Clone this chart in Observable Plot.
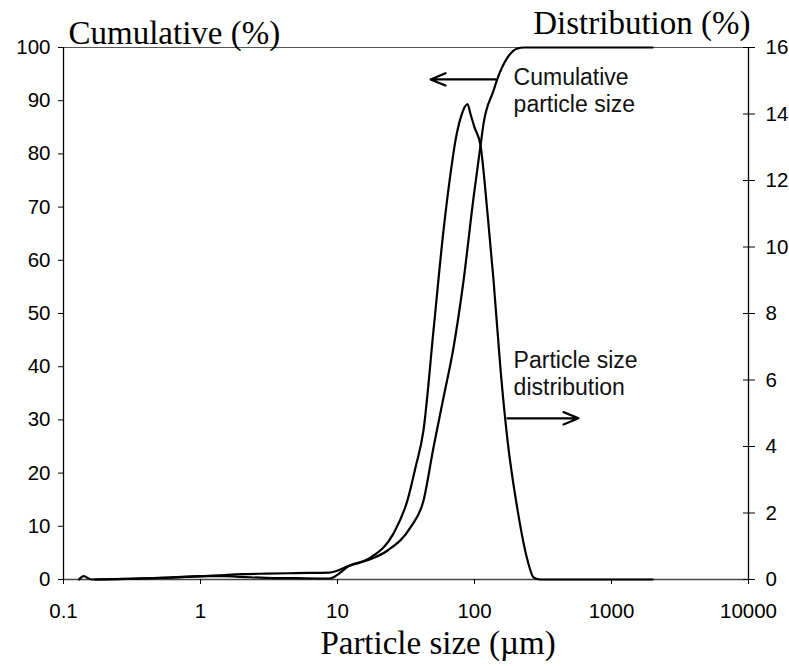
<!DOCTYPE html>
<html><head><meta charset="utf-8">
<script src="https://cdn.jsdelivr.net/npm/d3@7"></script>
<script src="https://cdn.jsdelivr.net/npm/@observablehq/plot@0.6"></script>
<style>body{margin:0;background:#fff}#chart svg{display:block}</style>
</head><body><div id="chart"></div>
<script>
// Cumulative particle size (%), left axis
const cumSize = [0.17, 0.3, 0.6, 1, 1.5, 2, 3, 5, 8.7, 12.3, 16.5, 23.2, 34.1, 42.4, 50.2, 59.4, 70.3, 83.2, 98.4, 110.7, 116.4, 137.7, 147.3, 174, 206, 230, 2000];
const cumPct  = [0,    0.1, 0.35, 0.6, 0.85, 1.0, 1.1, 1.2, 1.3, 2.6, 3.6, 5.45, 9.8, 14.8, 24.8, 34.2, 43.6, 56.2, 71.8, 81.6, 85.7, 91.9, 94.2, 98.1, 99.8, 100, 100];
// Particle size distribution (%), right axis
const distSize = [0.13, 0.14, 0.16, 0.3, 0.6, 1, 1.5, 2, 3, 5, 8.7, 12.3, 17.4, 25.6, 32.4, 37.1, 42.4, 50.2, 59.4, 66.8, 72.6, 79.4, 88.9, 93.5, 100, 110.7, 124.5, 137.7, 155, 174, 206, 244, 270, 303, 2000];
const distPct  = [0,    0.1,  0,    0.02, 0.06, 0.1, 0.1, 0.08, 0.05, 0.04, 0.03, 0.42, 0.66, 1.38, 2.38, 3.37, 4.48, 7.49, 10.5, 12.2, 13.2, 13.9, 14.3, 14.0, 13.6, 13.05, 11.0, 9.0, 6.3, 4.2, 2.1, 0.57, 0.06, 0, 0];

const xTicks = [0.1, 1, 10, 100, 1000, 10000];
const leftTicks = [0, 10, 20, 30, 40, 50, 60, 70, 80, 90, 100];
const rightTicks = [0, 2, 4, 6, 8, 10, 12, 14, 16];
const rightMax = 16, leftMax = 100;

// Annotation text and arrows (data coordinates: size in µm, left-axis %)
const annoText = ["Cumulative", "particle size", "Particle size", "distribution"];
const annoX = [193, 193, 193, 193];
const annoY = [92.9, 87.8, 39.8, 34.6];
const arrowX1 = [142, 174];
const arrowX2 = [47.8, 574];
const arrowY = [94, 30.3];

const cum = cumSize.map((s, i) => ({size: s, pct: cumPct[i]}));
const dist = distSize.map((s, i) => ({size: s, pct: distPct[i]}));
const anno = annoText.map((t, i) => ({text: t, x: annoX[i], y: annoY[i]}));
const arrows = arrowX1.map((x, i) => ({x1: x, x2: arrowX2[i], y: arrowY[i]}));
const toLeft = v => v * leftMax / rightMax;

const serif = "'Liberation Serif', 'Times New Roman', serif";

const chart = Plot.plot({
  width: 789, height: 666,
  marginLeft: 63, marginRight: 41, marginTop: 47, marginBottom: 87,
  x: {type: "log", domain: [0.1, 10000]},
  y: {domain: [0, 100]},
  style: {fontFamily: "'Liberation Sans', Arial, sans-serif", fontSize: "20.5px", color: "#000", background: "#fff"},
  marks: [
    Plot.ruleY([100], {stroke: "#555", strokeWidth: 1.2}),
    Plot.ruleY([0], {stroke: "#444", strokeWidth: 1.6}),
    Plot.ruleX([0.1, 10000], {stroke: "#000", strokeWidth: 1.3}),
    Plot.axisX({ticks: xTicks, tickFormat: d => String(d), tickSize: 5, tickPadding: 19, label: null}),
    Plot.axisY({ticks: leftTicks, tickSize: 5, tickPadding: 8, label: null}),
    Plot.axisY({anchor: "right", ticks: rightTicks.map(toLeft), tickFormat: d => String(Math.round(d * rightMax / leftMax)), tickSize: 6, tickPadding: 11, label: null}),
    Plot.axisY({anchor: "right", ticks: rightTicks.map(toLeft), tickFormat: () => "", tickSize: -6, label: null}),
    Plot.line(cum, {x: "size", y: "pct", stroke: "#000", strokeWidth: 2.2, curve: "monotone-x"}),
    Plot.line(dist, {x: "size", y: d => toLeft(d.pct), stroke: "#000", strokeWidth: 2.2, curve: "monotone-x"}),
    Plot.arrow(arrows, {x1: "x1", x2: "x2", y1: "y", y2: "y", stroke: "#000", strokeWidth: 2.2, headLength: 11, headAngle: 45}),
    Plot.text(anno, {x: "x", y: "y", text: "text", textAnchor: "start", lineAnchor: "bottom", fontSize: 23, fill: "#111"}),
    Plot.text(["Cumulative (%)"], {text: d => d, frameAnchor: "top-left", textAnchor: "start", lineAnchor: "bottom", dx: 5, dy: -4, fontFamily: serif, fontSize: 33}),
    Plot.text(["Distribution (%)"], {text: d => d, frameAnchor: "top-right", textAnchor: "end", lineAnchor: "bottom", dx: 2, dy: -14, fontFamily: serif, fontSize: 33}),
    Plot.text(["Particle size (µm)"], {text: d => d, frameAnchor: "bottom", textAnchor: "middle", lineAnchor: "bottom", dx: 32, dy: 74, fontFamily: serif, fontSize: 33})
  ]
});
document.getElementById("chart").append(chart);
</script>
</body></html>
